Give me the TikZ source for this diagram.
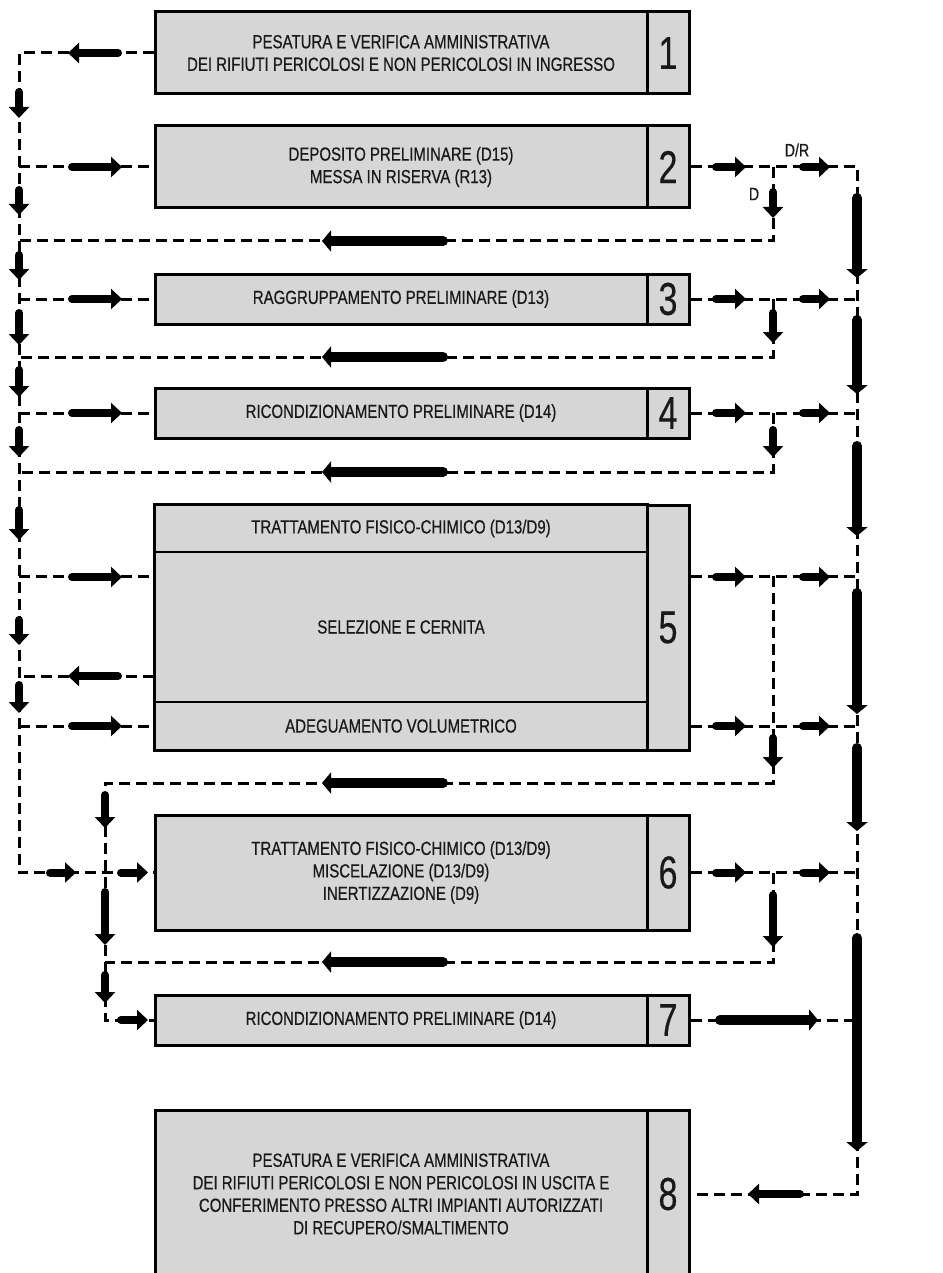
\documentclass[tikz,border=0pt]{standalone}
\usepackage{fontspec}
\setmainfont[FakeStretch=0.79,FakeBold=0.5]{Liberation Sans}
\newfontfamily\cifra[FakeStretch=0.74,FakeBold=0.4]{Liberation Sans}
\usetikzlibrary{arrows.meta}

\tikzset{
  riquadro/.style={draw, line width=3pt, fill=black!16, inner sep=0pt, align=center,
    text=black!90, font=\fontsize{19}{22.5}\selectfont, minimum width=492pt},
  numero/.style={draw, line width=3pt, fill=black!16, inner sep=0pt, minimum width=42pt,
    text=black!90, font=\cifra\fontsize{46}{46}\selectfont},
  riga/.style={draw, line width=1.6pt, fill=black!16, inner sep=0pt, align=center,
    text=black!90, font=\fontsize{19}{22.5}\selectfont, minimum width=492pt},
  tratto/.style={line width=3pt, dash pattern=on 11pt off 6pt},
  barra/.style={line width=8pt, line cap=round, -{Triangle[length=11pt,width=20pt]}},
  barra larga/.style={line width=10pt, line cap=round, -{Triangle[length=9pt,width=21pt]}},
  etichetta/.style={inner sep=0pt, text=black!90, font=\fontsize{18}{18}\selectfont}
}

\begin{document}
\begin{tikzpicture}[x=1pt,y=-1pt]
  \clip (0,0) rectangle (942,1273);
  \fill[white] (0,0) rectangle (942,1273);

  % colonne dei collegamenti
  \coordinate (sx) at (19,0);
  \coordinate (mx) at (105,0);
  \coordinate (dx) at (773,0);
  \coordinate (ex) at (857,0);
  % livelli di ritorno
  \coordinate (r2) at (0,241);
  \coordinate (r3) at (0,357);
  \coordinate (r4) at (0,472);
  \coordinate (r5) at (0,783);
  \coordinate (r6) at (0,962);

  % fasi
  \node[riquadro, minimum height=82pt] (b1) at (401,53)
    {PESATURA E VERIFICA AMMINISTRATIVA\\DEI RIFIUTI PERICOLOSI E NON PERICOLOSI IN INGRESSO};
  \node[numero, minimum height=82pt] (n1) at (668,53) {1};

  \node[riquadro, minimum height=82pt] (b2) at (401,167)
    {DEPOSITO PRELIMINARE (D15)\\MESSA IN RISERVA (R13)};
  \node[numero, minimum height=82pt] (n2) at (668,167) {2};

  \node[riquadro, minimum height=50pt] (b3) at (401,299) {RAGGRUPPAMENTO PRELIMINARE (D13)};
  \node[numero, minimum height=50pt] (n3) at (668,299) {3};

  \node[riquadro, minimum height=50pt] (b4) at (401,413) {RICONDIZIONAMENTO PRELIMINARE (D14)};
  \node[numero, minimum height=50pt] (n4) at (668,413) {4};

  \node[riga, minimum height=47pt] (b5t) at (401,528.5) {TRATTAMENTO FISICO-CHIMICO (D13/D9)};
  \node[riga, minimum height=150pt] (b5s) at (401,627) {SELEZIONE E CERNITA};
  \node[riga, minimum height=48pt] (b5v) at (401,726) {ADEGUAMENTO VOLUMETRICO};
  \draw[line width=3pt] (b5t.north west) rectangle (b5v.south east);
  \node[numero, minimum height=245pt] (n5) at (668,627.5) {5};

  \node[riquadro, minimum height=115pt] (b6) at (401,872.5)
    {TRATTAMENTO FISICO-CHIMICO (D13/D9)\\MISCELAZIONE (D13/D9)\\INERTIZZAZIONE (D9)};
  \node[numero, minimum height=115pt] (n6) at (668,872.5) {6};

  \node[riquadro, minimum height=50pt] (b7) at (401,1020) {RICONDIZIONAMENTO PRELIMINARE (D14)};
  \node[numero, minimum height=50pt] (n7) at (668,1020) {7};

  \node[riquadro, minimum height=168pt] (b8) at (401,1194)
    {PESATURA E VERIFICA AMMINISTRATIVA\\DEI RIFIUTI PERICOLOSI E NON PERICOLOSI IN USCITA E\\
     CONFERIMENTO PRESSO ALTRI IMPIANTI AUTORIZZATI\\DI RECUPERO/SMALTIMENTO};
  \node[numero, minimum height=168pt] (n8) at (668,1194) {8};

  \coordinate (p5) at ([yshift=-25pt]b5s.north west);
  \coordinate (q5) at ([yshift=26pt]b5s.south west);

  % collegamenti a sinistra
  \draw[tratto] (b1.west) -| (sx |- b6.west) -- (b6.west);
  \foreach \b in {b2,b3,b4,b5v}
    \draw[tratto] (sx |- \b.west) -- (\b.west);
  \draw[tratto] (sx |- p5) -- (p5);
  \draw[tratto] (q5) -- (sx |- q5);

  % ritorni
  \draw[tratto] (dx |- n2.east) |- (sx |- r2);
  \draw[tratto] (dx |- n3.east) |- (sx |- r3);
  \draw[tratto] (dx |- n4.east) |- (sx |- r4);
  \draw[tratto] (dx |- p5) |- (mx |- r5) -- (mx |- b7.west) -- (b7.west);
  \draw[tratto] (dx |- n6.east) |- (mx |- r6);

  % collegamenti a destra
  \draw[tratto] (n2.east) -| (ex |- n8.east) -- (n8.east);
  \foreach \n in {n3,n4,n6,n7}
    \draw[tratto] (\n.east) -- (ex |- \n.east);
  \draw[tratto] (n5.east |- p5) -- (ex |- p5);
  \draw[tratto] (n5.east |- b5v.east) -- (ex |- b5v.east);

  % frecce
  \foreach \a/\b in {92/118,190/215,255/280,313/345,370/397,430/457,510/540,620/645,685/713}
    \draw[barra] (19,\a) -- (19,\b);
  \foreach \y in {167,299,413,577,726}
    \draw[barra] (72,\y) -- (122,\y);
  \foreach \y in {53,676}
    \draw[barra] (118,\y) -- (68,\y);
  \foreach \y in {241,357,472,783,962}
    \draw[barra larga] (443,\y) -- (322,\y);
  \foreach \y in {167,299,413,577,726,872.5} {
    \draw[barra] (716,\y) -- (746,\y);
    \draw[barra] (803,\y) -- (830,\y);
  }
  \foreach \a/\b in {192/218,313/343,430/457,738/768,895/947}
    \draw[barra] (773,\a) -- (773,\b);
  \foreach \a/\b in {198/278,320/394,446/536,593/714,748/831,938/1151}
    \draw[barra larga] (857,\a) -- (857,\b);
  \foreach \a/\b in {795/828,892/945,975/1003}
    \draw[barra] (105,\a) -- (105,\b);
  \draw[barra] (50,872.5) -- (76,872.5);
  \draw[barra] (121,872.5) -- (148,872.5);
  \draw[barra] (121,1020) -- (148,1020);
  \draw[barra larga] (720,1020) -- (818,1020);
  \draw[barra] (800,1194) -- (748,1194);

  % etichette
  \node[etichetta] (dr) at (797,150) {D/R};
  \node[etichetta] (dd) at (754,194) {D};
\end{tikzpicture}
\end{document}
